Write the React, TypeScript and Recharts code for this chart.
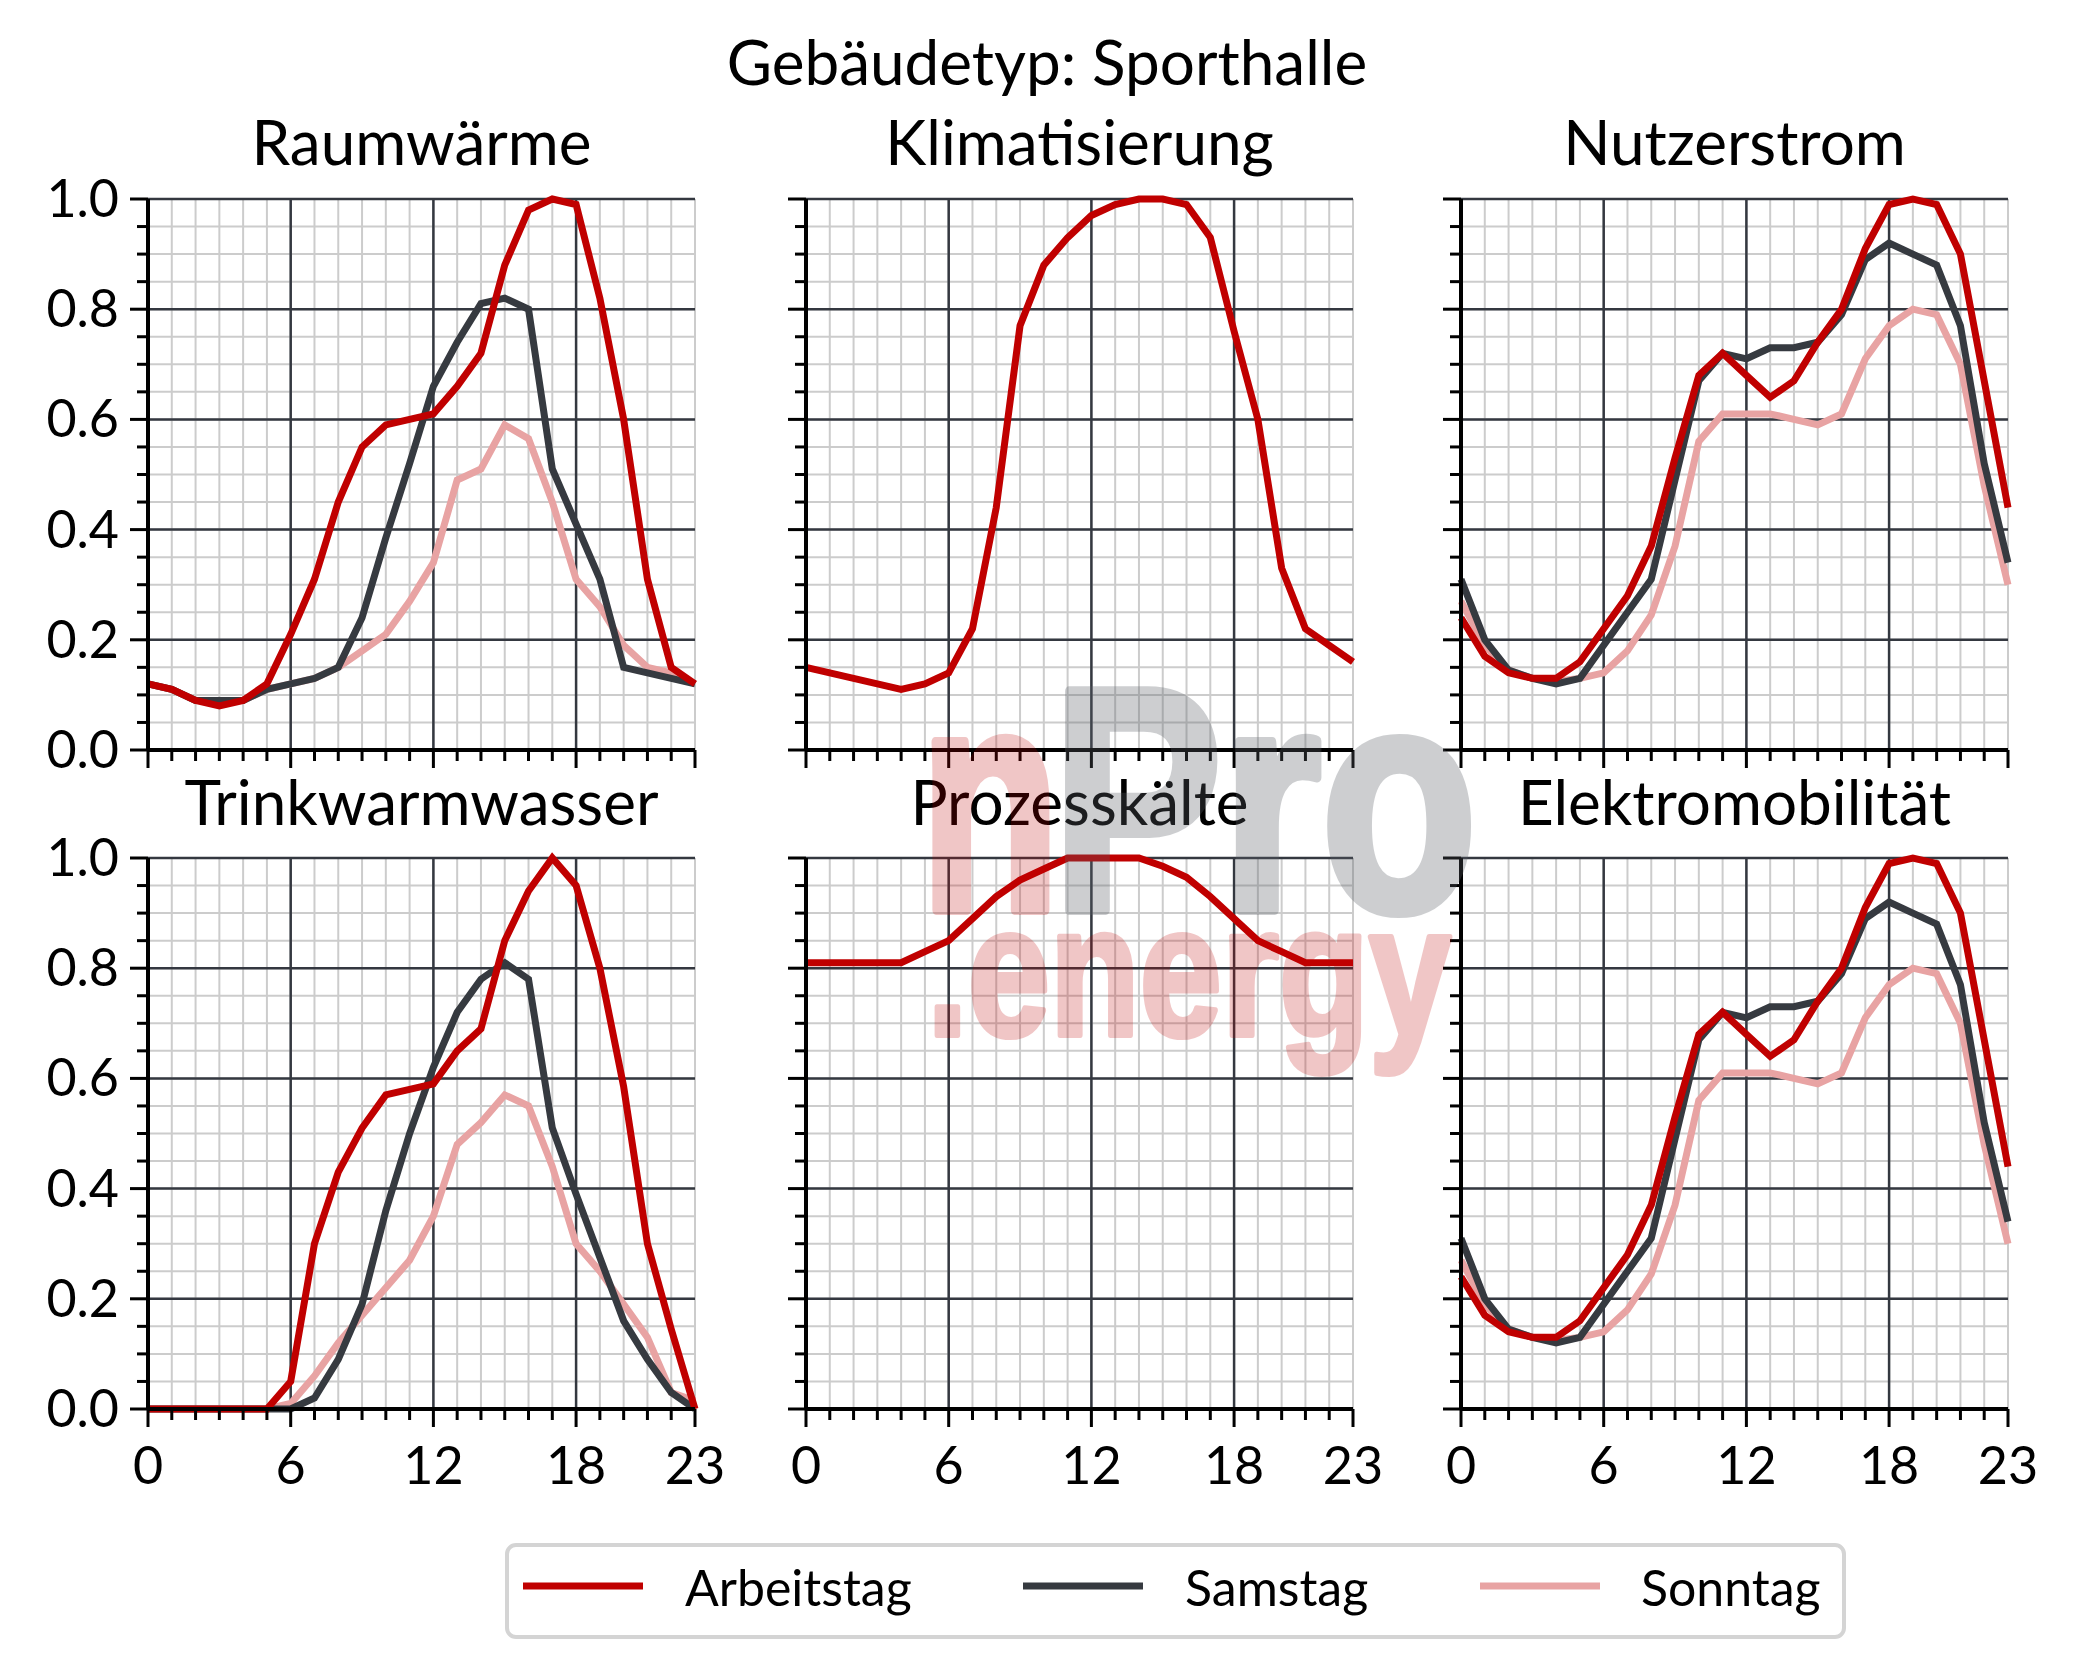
import React from 'react';
import { LineChart, Line, XAxis, YAxis, CartesianGrid } from 'recharts';

// hours of the day (x) and tick values
const hours = [0, 1, 2, 3, 4, 5, 6, 7, 8, 9, 10, 11, 12, 13, 14, 15, 16, 17, 18, 19, 20, 21, 22, 23];
const xMajorGrid = [0, 6, 12, 18];
const xLabelTicks = [0, 6, 12, 18, 23];
const yTicks = [0, 0.05, 0.1, 0.15, 0.2, 0.25, 0.3, 0.35, 0.4, 0.45, 0.5, 0.55, 0.6, 0.65, 0.7, 0.75, 0.8, 0.85, 0.9, 0.95, 1];
const yMajor = [0, 0.2, 0.4, 0.6, 0.8, 1];

// Raumwärme
const rwArbeitstag = [0.12, 0.11, 0.09, 0.08, 0.09, 0.12, 0.21, 0.31, 0.45, 0.55, 0.59, 0.6, 0.61, 0.66, 0.72, 0.88, 0.98, 1.0, 0.99, 0.82, 0.6, 0.31, 0.15, 0.12];
const rwSamstag = [0.12, 0.11, 0.09, 0.09, 0.09, 0.11, 0.12, 0.13, 0.15, 0.24, 0.385, 0.52, 0.66, 0.74, 0.81, 0.82, 0.8, 0.51, 0.41, 0.31, 0.15, 0.14, 0.13, 0.12];
const rwSonntag = [0.12, 0.11, 0.09, 0.09, 0.09, 0.11, 0.12, 0.13, 0.15, 0.18, 0.21, 0.27, 0.34, 0.49, 0.51, 0.59, 0.565, 0.45, 0.31, 0.26, 0.19, 0.15, 0.14, 0.12];

// Klimatisierung
const klArbeitstag = [0.15, 0.14, 0.13, 0.12, 0.11, 0.12, 0.14, 0.22, 0.44, 0.77, 0.88, 0.93, 0.97, 0.99, 1.0, 1.0, 0.99, 0.93, 0.76, 0.6, 0.33, 0.22, 0.19, 0.16];

// Nutzerstrom
const nsArbeitstag = [0.24, 0.17, 0.14, 0.13, 0.13, 0.16, 0.22, 0.28, 0.37, 0.53, 0.68, 0.72, 0.68, 0.64, 0.67, 0.74, 0.8, 0.91, 0.99, 1.0, 0.99, 0.9, 0.67, 0.44];
const nsSamstag = [0.31, 0.2, 0.145, 0.13, 0.12, 0.13, 0.19, 0.25, 0.31, 0.49, 0.67, 0.72, 0.71, 0.73, 0.73, 0.74, 0.79, 0.89, 0.92, 0.9, 0.88, 0.77, 0.52, 0.34];
const nsSonntag = [0.27, 0.19, 0.145, 0.13, 0.125, 0.13, 0.14, 0.18, 0.245, 0.37, 0.56, 0.61, 0.61, 0.61, 0.6, 0.59, 0.61, 0.71, 0.77, 0.8, 0.79, 0.7, 0.48, 0.3];

// Trinkwarmwasser
const twArbeitstag = [0, 0, 0, 0, 0, 0, 0.05, 0.3, 0.43, 0.51, 0.57, 0.58, 0.59, 0.65, 0.69, 0.85, 0.94, 1.0, 0.95, 0.8, 0.585, 0.3, 0.145, 0];
const twSamstag = [0, 0, 0, 0, 0, 0, 0, 0.02, 0.09, 0.19, 0.36, 0.5, 0.62, 0.72, 0.78, 0.81, 0.78, 0.51, 0.39, 0.275, 0.16, 0.09, 0.03, 0];
const twSonntag = [0, 0, 0, 0, 0, 0, 0.01, 0.06, 0.12, 0.17, 0.22, 0.27, 0.35, 0.48, 0.52, 0.57, 0.55, 0.44, 0.3, 0.25, 0.19, 0.13, 0.03, 0.015];

// Prozesskälte
const pkArbeitstag = [0.81, 0.81, 0.81, 0.81, 0.81, 0.83, 0.85, 0.89, 0.93, 0.96, 0.98, 1.0, 1.0, 1.0, 1.0, 0.985, 0.965, 0.93, 0.89, 0.85, 0.83, 0.81, 0.81, 0.81];

// Elektromobilität (same profile as Nutzerstrom in the picture)
const emArbeitstag = [0.24, 0.17, 0.14, 0.13, 0.13, 0.16, 0.22, 0.28, 0.37, 0.53, 0.68, 0.72, 0.68, 0.64, 0.67, 0.74, 0.8, 0.91, 0.99, 1.0, 0.99, 0.9, 0.67, 0.44];
const emSamstag = [0.31, 0.2, 0.145, 0.13, 0.12, 0.13, 0.19, 0.25, 0.31, 0.49, 0.67, 0.72, 0.71, 0.73, 0.73, 0.74, 0.79, 0.89, 0.92, 0.9, 0.88, 0.77, 0.52, 0.34];
const emSonntag = [0.27, 0.19, 0.145, 0.13, 0.125, 0.13, 0.14, 0.18, 0.245, 0.37, 0.56, 0.61, 0.61, 0.61, 0.6, 0.59, 0.61, 0.71, 0.77, 0.8, 0.79, 0.7, 0.48, 0.3];

const seriesNames = ['Arbeitstag', 'Samstag', 'Sonntag'];

const FONT = 'Lato, "Noto Sans", sans-serif';
const LOGO_FONT = '"Liberation Sans", Arial, sans-serif';
const RED = '#c00000';
const DARK = '#363a40';
const PINK = '#e8a3a3';

const W = 2077;
const H = 1678;
const colLeft = [148, 806, 1461];
const rowTop = [199, 858];
const PW = 547;
const PH = 551;
const ML = 140;
const MT = 40;
const MR = 30;
const MB = 90;

interface PanelDef {
    title: string;
    row: number;
    col: number;
    a: number[];
    s?: number[];
    so?: number[];
}

const panels: PanelDef[] = [
    { title: 'Raumwärme', row: 0, col: 0, a: rwArbeitstag, s: rwSamstag, so: rwSonntag },
    { title: 'Klimatisierung', row: 0, col: 1, a: klArbeitstag },
    { title: 'Nutzerstrom', row: 0, col: 2, a: nsArbeitstag, s: nsSamstag, so: nsSonntag },
    { title: 'Trinkwarmwasser', row: 1, col: 0, a: twArbeitstag, s: twSamstag, so: twSonntag },
    { title: 'Prozesskälte', row: 1, col: 1, a: pkArbeitstag },
    { title: 'Elektromobilität', row: 1, col: 2, a: emArbeitstag, s: emSamstag, so: emSonntag },
];

const XTick = (props: any) => {
    const { x, y, payload, showLabel } = props;
    const v = payload.value;
    const major = xLabelTicks.includes(v);
    return (
        <g>
            <line x1={x} x2={x} y1={y} y2={y + (major ? 18 : 11)} stroke="#000" strokeWidth={3} />
            {showLabel && major && (
                <text x={x} y={y + 75} textAnchor="middle" fontSize={52} fontFamily={FONT} fill="#000">{v}</text>
            )}
        </g>
    );
};

const YTick = (props: any) => {
    const { x, y, payload, showLabel } = props;
    const v = payload.value;
    const major = yMajor.includes(v);
    return (
        <g>
            <line x1={x - (major ? 18 : 11)} x2={x} y1={y} y2={y} stroke="#000" strokeWidth={3} />
            {showLabel && major && (
                <text x={x - 29} y={y + 18} textAnchor="end" fontSize={52} fontFamily={FONT} fill="#000">{v.toFixed(1)}</text>
            )}
        </g>
    );
};

const spine = { stroke: '#000', strokeWidth: 4 };

const Panel = ({ p }: { p: PanelDef }) => {
    const data = hours.map((h, i) => ({
        h,
        a: p.a[i],
        s: p.s ? p.s[i] : undefined,
        so: p.so ? p.so[i] : undefined,
    }));
    return (
        <div style={{ position: 'absolute', left: colLeft[p.col] - ML, top: rowTop[p.row] - MT }}>
            <LineChart width={ML + PW + MR} height={MT + PH + MB} data={data} margin={{ top: MT, right: MR, bottom: 0, left: 0 }}>
                <CartesianGrid verticalValues={hours} horizontalValues={yTicks} stroke="#cccccc" strokeWidth={2} />
                <CartesianGrid verticalValues={xMajorGrid} horizontalValues={yMajor} stroke="#343840" strokeWidth={2.5} />
                <XAxis
                    dataKey="h" type="number" domain={[0, 23]} ticks={hours} interval={0} height={MB}
                    tickSize={0} tickMargin={0} tickLine={false} axisLine={spine}
                    tick={(t: any) => <XTick {...t} showLabel={p.row === 1} />}
                />
                <XAxis xAxisId="top" orientation="top" dataKey="h" type="number" domain={[0, 23]} height={0} tick={false} tickLine={false} axisLine={spine} />
                <YAxis
                    type="number" domain={[0, 1]} ticks={yTicks} interval={0} width={ML}
                    tickSize={0} tickMargin={0} tickLine={false} axisLine={spine}
                    tick={(t: any) => <YTick {...t} showLabel={p.col === 0} />}
                />
                <YAxis yAxisId="right" orientation="right" type="number" domain={[0, 1]} width={0} tick={false} tickLine={false} axisLine={spine} />
                {p.so && <Line dataKey="so" type="linear" stroke={PINK} strokeWidth={7} dot={false} isAnimationActive={false} />}
                {p.s && <Line dataKey="s" type="linear" stroke={DARK} strokeWidth={7} dot={false} isAnimationActive={false} />}
                <Line dataKey="a" type="linear" stroke={RED} strokeWidth={7} dot={false} isAnimationActive={false} />
            </LineChart>
        </div>
    );
};

const legendItems = [
    { name: seriesNames[0], color: RED, lx: 523, tx: 685 },
    { name: seriesNames[1], color: DARK, lx: 1023, tx: 1185 },
    { name: seriesNames[2], color: PINK, lx: 1480, tx: 1641 },
];

export default function App() {
    return (
        <div style={{ position: 'absolute', left: 0, top: 0, width: W, height: H, background: '#fff', overflow: 'hidden' }}>
            {panels.map((p) => <Panel key={p.title} p={p} />)}
            <svg width={W} height={H} style={{ position: 'absolute', left: 0, top: 0, pointerEvents: 'none' }}>
                <text x={1047} y={85} textAnchor="middle" fontSize={62} fontFamily={FONT} fill="#000">Gebäudetyp: Sporthalle</text>
                {panels.map((p) => (
                    <text key={p.title} x={colLeft[p.col] + PW / 2} y={p.row === 0 ? 165 : 825} textAnchor="middle" fontSize={62} fontFamily={FONT} fill="#000">{p.title}</text>
                ))}
                {/* legend */}
                <rect x={507} y={1545} width={1337} height={92} rx={9} fill="#fff" stroke="#d4d4d4" strokeWidth={4} />
                {legendItems.map((it) => (
                    <g key={it.name}>
                        <line x1={it.lx} x2={it.lx + 120} y1={1586} y2={1586} stroke={it.color} strokeWidth={7} />
                        <text x={it.tx} y={1606} fontSize={50} fontFamily={FONT} fill="#000">{it.name}</text>
                    </g>
                ))}
                {/* watermark */}
                <g opacity={0.22}>
                    <text x={920} y={910} fontSize={318} fontWeight={700} fontFamily={LOGO_FONT} textLength={140} lengthAdjust="spacingAndGlyphs" fill={RED} stroke={RED} strokeWidth={10} strokeLinejoin="round">n</text>
                </g>
                <g opacity={0.3}>
                    <text x={1052} y={910} fontSize={318} fontWeight={700} fontFamily={LOGO_FONT} textLength={425} lengthAdjust="spacingAndGlyphs" fill="#5c6168" stroke="#5c6168" strokeWidth={10} strokeLinejoin="round">Pro</text>
                </g>
                <g opacity={0.22}>
                    <text x={927} y={1035} fontSize={185} fontWeight={700} fontFamily={LOGO_FONT} textLength={524} lengthAdjust="spacingAndGlyphs" fill={RED} stroke={RED} strokeWidth={6} strokeLinejoin="round">.energy</text>
                </g>
            </svg>
        </div>
    );
}
